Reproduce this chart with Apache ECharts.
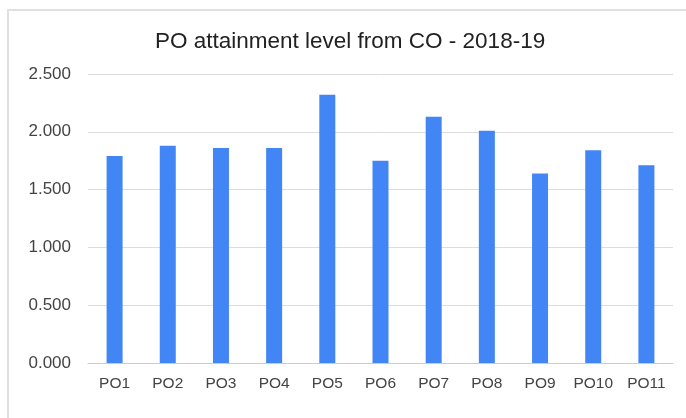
<!DOCTYPE html>
<html>
<head>
<meta charset="utf-8">
<style>
  html, body { margin: 0; padding: 0; background: #fff; overflow: hidden; }
  #frame {
    position: absolute; left: 7px; top: 9px; width: 690px; height: 420px;
    border-left: 2px solid #e0e0e0; border-top: 2px solid #e0e0e0;
  }
  #chart { position: absolute; left: 0; top: 0; width: 686px; height: 418px; }
</style>
<script src="https://cdn.jsdelivr.net/npm/echarts@6/dist/echarts.min.js"></script>
</head>
<body>
<div id="frame"></div>
<div id="chart"></div>
<script>
var categories = ["PO1", "PO2", "PO3", "PO4", "PO5", "PO6", "PO7", "PO8", "PO9", "PO10", "PO11"];
var values = [1.79, 1.88, 1.86, 1.86, 2.32, 1.75, 2.13, 2.01, 1.64, 1.84, 1.71];

var myChart = echarts.init(document.getElementById("chart"));
myChart.setOption({
  animation: false,
  title: {
    text: "PO attainment level from CO - 2018-19",
    left: 150,
    top: 25,
    textStyle: {
      fontFamily: "Liberation Sans",
      fontSize: 22.5,
      fontWeight: "normal",
      color: "#222"
    }
  },
  grid: {
    left: 88,
    right: 13,
    top: 74,
    bottom: 55
  },
  xAxis: {
    type: "category",
    data: categories,
    axisTick: { show: false },
    axisLine: { lineStyle: { color: "#ccc", width: 1 } },
    axisLabel: {
      interval: 0,
      margin: 13,
      fontFamily: "Liberation Sans",
      fontSize: 15.5,
      color: "#444"
    }
  },
  yAxis: {
    type: "value",
    min: 0,
    max: 2.5,
    interval: 0.5,
    axisLabel: {
      margin: 17,
      fontFamily: "Liberation Sans",
      fontSize: 17,
      color: "#444",
      formatter: function(v) { return v.toFixed(3); }
    },
    splitLine: { lineStyle: { color: "#ddd", width: 1 } }
  },
  series: [
    {
      type: "bar",
      data: values,
      barWidth: 16,
      itemStyle: { color: "#4285f4" }
    }
  ]
});
</script>
</body>
</html>
